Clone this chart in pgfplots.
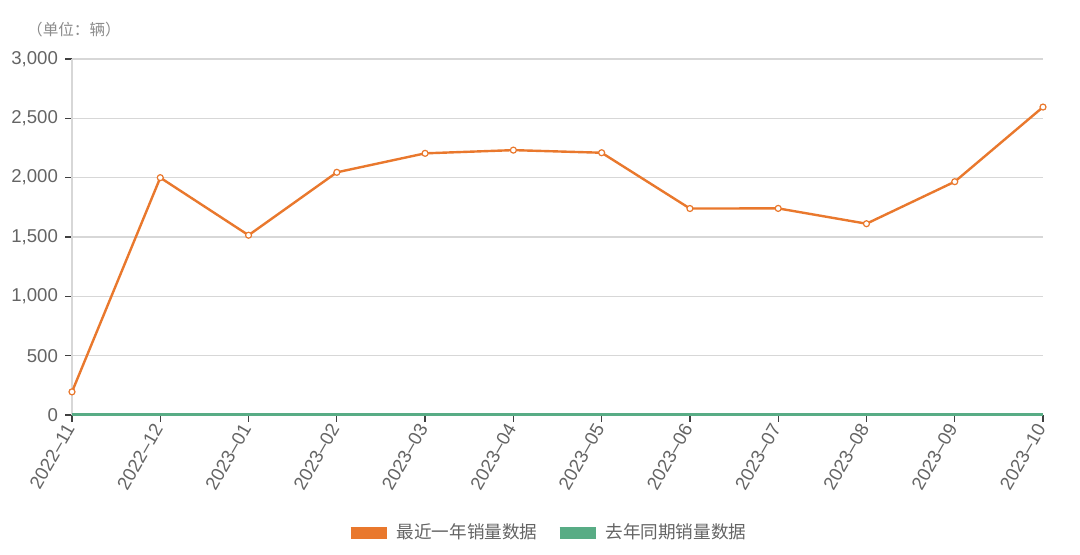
\documentclass[border=0pt]{standalone}
\usepackage{fontspec}
\setmainfont{Liberation Sans}
\newfontfamily\cjk{Noto Sans CJK SC}
\usepackage{pgfplots}
\pgfplotsset{compat=1.18}

\definecolor{salesorange}{RGB}{233,120,45}
\definecolor{salesgreen}{RGB}{88,172,133}
\definecolor{gridgray}{RGB}{215,215,215}
\definecolor{labelgray}{RGB}{100,100,100}

\begin{document}
\begin{tikzpicture}
\begin{axis}[
    scale only axis,
    width=485.5pt, height=178pt,
    xmin=0, xmax=11, ymin=0, ymax=3000,
    axis x line*=bottom, axis y line*=left,
    axis line style={gridgray, line width=0.8pt},
    xtick={0,...,11},
    xticklabels={2022--11,2022--12,2023--01,2023--02,2023--03,2023--04,2023--05,2023--06,2023--07,2023--08,2023--09,2023--10},
    ytick={0,500,...,3000},
    ymajorgrids, grid style={gridgray, line width=0.6pt},
    tick align=outside, major tick length=3.5pt,
    tick style={black!75, line width=0.6pt},
    /pgf/number format/assume math mode=true,
    /pgf/number format/1000 sep={,},
    ticklabel style={font=\fontsize{9.3}{10}\selectfont, text=labelgray},
    xticklabel style={rotate=60, anchor=east, inner sep=2pt},
    clip=false,
    legend columns=2,
    legend style={draw=none, at={(axis description cs:0.5,0)}, anchor=center,
        yshift=-59pt, xshift=-5pt, font=\cjk\fontsize{8.8}{10}\selectfont, text=labelgray,
        /tikz/every even column/.append style={column sep=6pt}},
    legend image code/.code={\draw[line width=6pt, mark=none] (0pt,0pt) -- (18pt,0pt);},
]
\addplot[salesorange, line width=1.2pt, mark=*, mark size=1.5pt,
    mark options={fill=white, draw=salesorange, line width=0.6pt}] coordinates {
    (0,195) (1,2000) (2,1515) (3,2045) (4,2205) (5,2232)
    (6,2210) (7,1740) (8,1741) (9,1612) (10,1966) (11,2595)
};
\addlegendentry{最近一年销量数据}
\addplot[salesgreen, line width=1.5pt, mark=none] coordinates {
    (0,0) (1,0) (2,0) (3,0) (4,0) (5,0)
    (6,0) (7,0) (8,0) (9,0) (10,0) (11,0)
};
\addlegendentry{去年同期销量数据}
\node[anchor=center, text=black!45, font=\cjk\fontsize{7.8}{9}\selectfont]
    at (rel axis cs:0,1) [xshift=1pt, yshift=14.5pt] {（单位：辆）};
\coordinate (bl) at (rel axis cs:0,0);
\coordinate (tr) at (rel axis cs:1,1);
\end{axis}
\path (bl) ++(-36pt,-70pt) rectangle ([xshift=18.5pt, yshift=29.5pt]tr);
\end{tikzpicture}
\end{document}
